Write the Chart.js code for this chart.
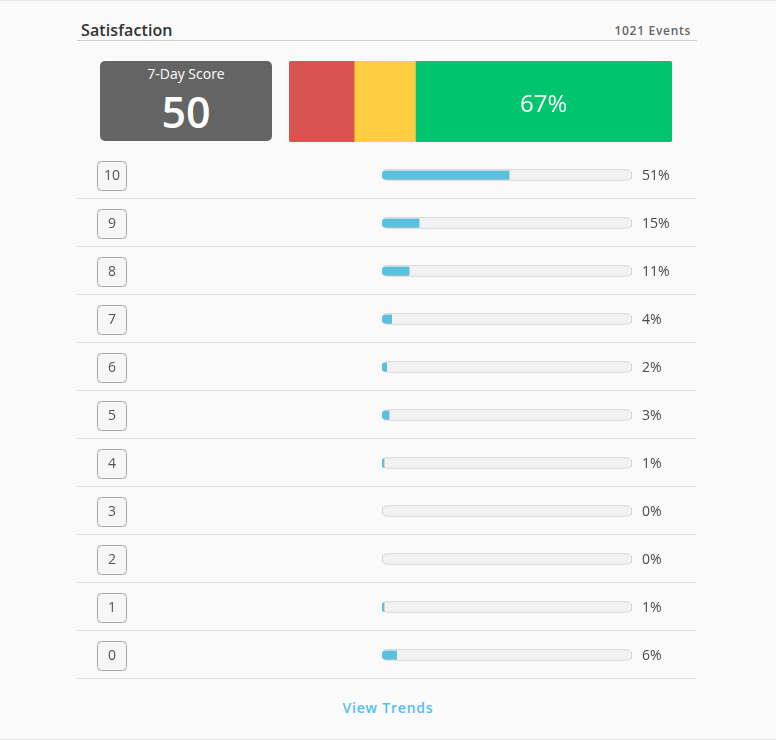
<!DOCTYPE html>
<html>
<head>
<meta charset="utf-8">
<script src="https://cdn.jsdelivr.net/npm/chart.js@4"></script>
<style>
  html,body{margin:0;padding:0;background:#fafafa;font-family:"Open Sans",sans-serif;}
  #page{position:relative;width:776px;height:740px;background:#fafafa;border-top:1px solid #e6e6e6;border-bottom:1px solid #e6e6e6;box-sizing:border-box;overflow:hidden;}
  #title{position:absolute;left:81px;top:18px;font-size:16px;font-weight:600;color:#333;letter-spacing:0.1px;}
  #events{position:absolute;right:85px;top:21px;font-size:12px;font-weight:600;color:#666;letter-spacing:0.7px;}
  #rule{position:absolute;left:77px;top:39px;width:620px;height:1px;background:#cccccc;}
  #score{position:absolute;left:100px;top:60px;width:172px;height:80px;background:#646464;border-radius:5px;color:#fff;text-align:center;}
  #score .lbl{position:absolute;left:0;right:0;top:3px;font-size:14px;}
  #score .val{position:absolute;left:0;right:0;top:23px;font-size:43px;font-weight:600;line-height:56px;}
  #npsWrap{position:absolute;left:289px;top:60px;width:383px;height:81px;}
  #rowsWrap{position:absolute;left:77px;top:150px;width:620px;height:528px;}
  #trends{position:absolute;left:0;width:776px;top:697px;text-align:center;font-size:14px;font-weight:600;letter-spacing:0.8px;color:#4cc3ee;}
</style>
</head>
<body>
<div id="page">
  <div id="title">Satisfaction</div>
  <div id="events">1021 Events</div>
  <div id="rule"></div>
  <div id="score"><div class="lbl">7-Day Score</div><div class="val">50</div></div>
  <div id="npsWrap"><canvas id="nps"></canvas></div>
  <div id="rowsWrap"><canvas id="rows"></canvas></div>
  <div id="trends">View Trends</div>
</div>
<script>
const scoreLabels = ["10","9","8","7","6","5","4","3","2","1","0"];
const scoreShares = [51, 15, 11, 4, 2, 3, 1, 0, 0, 1, 6];
const npsGroups = ["Detractors", "Passives", "Promoters"];
const npsShares = [17, 16, 67];
const npsColors = ["#db5350", "#ffcd40", "#00c46e"];

Chart.defaults.font.family = '"Open Sans", sans-serif';

// NPS stacked bar
const npsLabelPlugin = {
  id: 'npsLabel',
  afterDatasetsDraw(chart) {
    const ctx = chart.ctx;
    const meta = chart.getDatasetMeta(2);
    const el = meta.data[0];
    const cx = (el.base + el.x) / 2;
    ctx.save();
    ctx.fillStyle = '#ffffff';
    ctx.font = '24px "Open Sans", sans-serif';
    ctx.textAlign = 'center';
    ctx.textBaseline = 'middle';
    ctx.fillText(npsShares[2] + '%', cx, el.y + 3.5);
    ctx.restore();
  }
};
new Chart(document.getElementById('nps'), {
  type: 'bar',
  data: {
    labels: ['NPS'],
    datasets: npsGroups.map((g, i) => ({
      label: g,
      data: [npsShares[i]],
      backgroundColor: npsColors[i],
      borderWidth: 0,
      borderSkipped: false,
      borderRadius: i === 0 ? {topLeft: 3, bottomLeft: 3} : (i === 2 ? {topRight: 3, bottomRight: 3} : 0),
      barPercentage: 1,
      categoryPercentage: 1
    }))
  },
  options: {
    indexAxis: 'y',
    responsive: true,
    maintainAspectRatio: false,
    animation: false,
    layout: {padding: 0},
    plugins: {legend: {display: false}, tooltip: {enabled: false}},
    scales: {
      x: {stacked: true, display: false, min: 0, max: npsShares.reduce((a, b) => a + b, 0)},
      y: {stacked: true, display: false}
    }
  },
  plugins: [npsLabelPlugin]
});

// Distribution rows
const rowsPlugin = {
  id: 'rowsDecor',
  beforeDatasetsDraw(chart) {
    const ctx = chart.ctx;
    const yScale = chart.scales.y;
    const W = chart.width;
    ctx.save();
    const step = yScale.getPixelForValue(1) - yScale.getPixelForValue(0);
    scoreLabels.forEach((lab, i) => {
      const cy = yScale.getPixelForValue(i);
      // separator
      ctx.strokeStyle = '#e3e3e3';
      ctx.lineWidth = 1;
      ctx.beginPath();
      ctx.moveTo(0, Math.round(cy + step / 2) - 0.5);
      ctx.lineTo(W, Math.round(cy + step / 2) - 0.5);
      ctx.stroke();
      // label box
      const bx = 20.5, by = Math.round(cy - 14) + 0.5, bw = 29, bh = 29, r = 4;
      ctx.beginPath();
      ctx.moveTo(bx + r, by);
      ctx.arcTo(bx + bw, by, bx + bw, by + bh, r);
      ctx.arcTo(bx + bw, by + bh, bx, by + bh, r);
      ctx.arcTo(bx, by + bh, bx, by, r);
      ctx.arcTo(bx, by, bx + bw, by, r);
      ctx.closePath();
      ctx.fillStyle = '#f7f7f7';
      ctx.fill();
      ctx.strokeStyle = '#a9a9a9';
      ctx.stroke();
      ctx.fillStyle = '#555555';
      ctx.font = '14px "Open Sans", sans-serif';
      ctx.textAlign = 'center';
      ctx.textBaseline = 'middle';
      ctx.fillText(lab, bx + bw / 2, cy + 1.5);
      // percentage
      ctx.textAlign = 'left';
      ctx.font = '14px "Open Sans", sans-serif';
      ctx.fillStyle = '#4a4a4a';
      ctx.fillText(scoreShares[i] + '%', 565, cy + 1.5);
    });
    ctx.restore();
  }
};
new Chart(document.getElementById('rows'), {
  type: 'bar',
  data: {
    labels: scoreLabels,
    datasets: [
      {
        label: 'share',
        data: scoreShares,
        backgroundColor: '#5bc0de',
        borderColor: '#4aaecb',
        borderWidth: {bottom: 1},
        borderSkipped: false,
        borderRadius: {topLeft: 4, bottomLeft: 4, topRight: 0, bottomRight: 0},
        barThickness: 9,
        grouped: false,
        order: 1
      },
      {
        label: 'track',
        data: scoreLabels.map(() => 100),
        backgroundColor: '#f2f2f2',
        borderColor: '#cbcbcb',
        borderWidth: 1,
        borderSkipped: false,
        borderRadius: 5,
        barThickness: 11,
        grouped: false,
        order: 2
      }
    ]
  },
  options: {
    indexAxis: 'y',
    responsive: true,
    maintainAspectRatio: false,
    animation: false,
    layout: {padding: {left: 305, right: 65, top: 0, bottom: 0}},
    plugins: {legend: {display: false}, tooltip: {enabled: false}},
    scales: {
      x: {display: false, min: 0, max: 100},
      y: {display: false, offset: true}
    }
  },
  plugins: [rowsPlugin]
});
</script>
</body>
</html>
